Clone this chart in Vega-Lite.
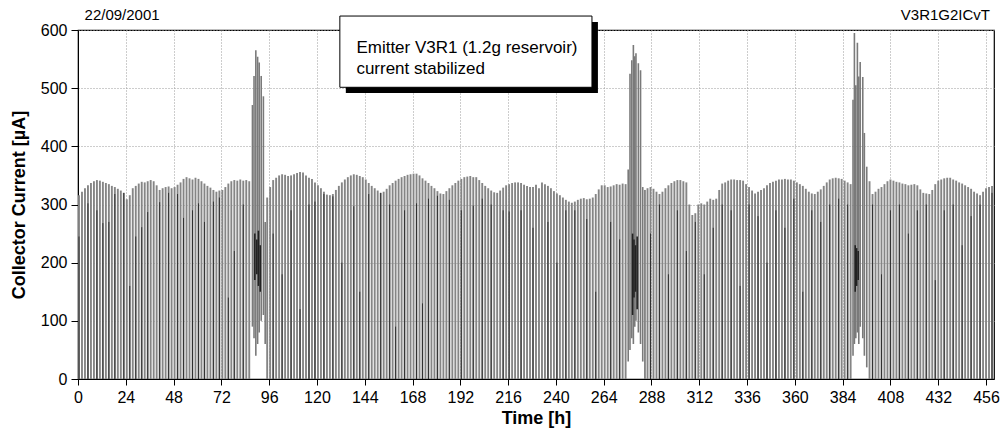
{
  "$schema": "https://vega.github.io/schema/vega-lite/v6.json",
  "width": 916,
  "height": 349,
  "autosize": {"type": "none"},
  "padding": {"left": 78, "top": 30, "right": 11, "bottom": 65},
  "background": "white",
  "config": {
    "font": "Liberation Sans",
    "view": {"stroke": "black", "strokeWidth": 1.2},
    "axis": {
      "domainColor": "black",
      "tickColor": "black",
      "labelColor": "black",
      "titleColor": "black",
      "labelFontSize": 16,
      "titleFontSize": 18,
      "titleFontWeight": "bold",
      "gridColor": "#9a9a9a",
      "gridDash": [1, 2],
      "labelOverlap": false,
      "labelFlush": false
    }
  },
  "datasets": {
    "spikes": [
      {"t":0.5,"v":316},{"t":2,"v":322},{"t":3.5,"v":328},{"t":5,"v":333},{"t":6.5,"v":337},{"t":8,"v":340},{"t":9.5,"v":342},{"t":11,"v":341},{"t":12.5,"v":339},{"t":14,"v":337},
      {"t":15.5,"v":335},{"t":17,"v":332},{"t":18.5,"v":330},{"t":20,"v":327},{"t":21.5,"v":324},{"t":23,"v":320},{"t":24.5,"v":309},{"t":26,"v":316},{"t":27.5,"v":328},{"t":29,"v":332},
      {"t":30.5,"v":336},{"t":32,"v":339},{"t":33.5,"v":338},{"t":35,"v":340},{"t":36.5,"v":342},{"t":38,"v":340},{"t":39.5,"v":333},{"t":41,"v":325},{"t":42.5,"v":328},{"t":44,"v":330},
      {"t":45.5,"v":331},{"t":47,"v":328},{"t":48.5,"v":330},{"t":50,"v":334},{"t":51.5,"v":338},{"t":53,"v":344},{"t":54.5,"v":347},{"t":56,"v":345},{"t":57.5,"v":343},{"t":59,"v":346},
      {"t":60.5,"v":344},{"t":62,"v":340},{"t":63.5,"v":336},{"t":65,"v":332},{"t":66.5,"v":329},{"t":68,"v":325},{"t":69.5,"v":322},{"t":71,"v":324},{"t":72.5,"v":325},{"t":74,"v":330},
      {"t":75.5,"v":336},{"t":77,"v":340},{"t":78.5,"v":342},{"t":80,"v":341},{"t":81.5,"v":343},{"t":83,"v":341},{"t":84.5,"v":342},{"t":86,"v":340},
      {"t":95,"v":312},{"t":96.5,"v":330},{"t":98,"v":342},{"t":99.5,"v":346},{"t":101,"v":350},{"t":102.5,"v":352},{"t":104,"v":351},{"t":105.5,"v":349},{"t":107,"v":350},{"t":108.5,"v":352},
      {"t":110,"v":354},{"t":111.5,"v":356},{"t":113,"v":355},{"t":114.5,"v":350},{"t":116,"v":346},{"t":117.5,"v":344},{"t":119,"v":338},{"t":120.5,"v":333},{"t":122,"v":328},{"t":123.5,"v":322},
      {"t":125,"v":317},{"t":126.5,"v":316},{"t":128,"v":318},{"t":129.5,"v":325},{"t":131,"v":332},{"t":132.5,"v":338},{"t":134,"v":343},{"t":135.5,"v":347},{"t":137,"v":350},{"t":138.5,"v":352},
      {"t":140,"v":351},{"t":141.5,"v":349},{"t":143,"v":347},{"t":144.5,"v":343},{"t":146,"v":337},{"t":147.5,"v":332},{"t":149,"v":328},{"t":150.5,"v":324},{"t":152,"v":320},{"t":153.5,"v":322},
      {"t":155,"v":327},{"t":156.5,"v":333},{"t":158,"v":337},{"t":159.5,"v":341},{"t":161,"v":344},{"t":162.5,"v":347},{"t":164,"v":349},{"t":165.5,"v":351},{"t":167,"v":352},{"t":168.5,"v":353},
      {"t":170,"v":353},{"t":171.5,"v":350},{"t":173,"v":345},{"t":174.5,"v":341},{"t":176,"v":337},{"t":177.5,"v":332},{"t":179,"v":328},{"t":180.5,"v":323},{"t":182,"v":319},{"t":183.5,"v":318},
      {"t":185,"v":323},{"t":186.5,"v":328},{"t":188,"v":333},{"t":189.5,"v":337},{"t":191,"v":341},{"t":192.5,"v":344},{"t":194,"v":347},{"t":195.5,"v":348},{"t":197,"v":349},{"t":198.5,"v":347},
      {"t":200,"v":347},{"t":201.5,"v":342},{"t":203,"v":337},{"t":204.5,"v":332},{"t":206,"v":328},{"t":207.5,"v":324},{"t":209,"v":321},{"t":210.5,"v":320},{"t":212,"v":324},{"t":213.5,"v":329},
      {"t":215,"v":333},{"t":216.5,"v":335},{"t":218,"v":337},{"t":219.5,"v":338},{"t":221,"v":338},{"t":222.5,"v":337},{"t":224,"v":334},{"t":225.5,"v":332},{"t":227,"v":330},{"t":228.5,"v":330},
      {"t":230,"v":334},{"t":231.5,"v":328},{"t":233,"v":338},{"t":234.5,"v":335},{"t":236,"v":332},{"t":237.5,"v":328},{"t":239,"v":323},{"t":240.5,"v":319},{"t":242,"v":316},{"t":243.5,"v":312},
      {"t":245,"v":308},{"t":246.5,"v":305},{"t":248,"v":303},{"t":249.5,"v":305},{"t":251,"v":308},{"t":252.5,"v":310},{"t":254,"v":311},{"t":255.5,"v":309},{"t":257,"v":310},{"t":258.5,"v":312},
      {"t":260,"v":318},{"t":261.5,"v":326},{"t":263,"v":333},{"t":264.5,"v":333},{"t":266,"v":330},{"t":267.5,"v":331},{"t":269,"v":333},{"t":270.5,"v":335},{"t":272,"v":334},{"t":273.5,"v":336},
      {"t":275,"v":335},
      {"t":284.7,"v":325},{"t":286,"v":328},{"t":287.5,"v":330},{"t":289,"v":327},{"t":290.5,"v":322},{"t":292,"v":318},{"t":293.5,"v":322},{"t":295,"v":328},{"t":296.5,"v":333},{"t":298,"v":337},
      {"t":299.5,"v":340},{"t":301,"v":342},{"t":302.5,"v":342},{"t":304,"v":340},{"t":305.5,"v":338},{"t":307,"v":300},{"t":308.5,"v":282},{"t":310,"v":285},{"t":311.5,"v":300},{"t":313,"v":302},
      {"t":314.5,"v":300},{"t":316,"v":305},{"t":317.5,"v":310},{"t":319,"v":308},{"t":320.5,"v":310},{"t":322,"v":325},{"t":323.5,"v":336},{"t":325,"v":338},{"t":326.5,"v":341},{"t":328,"v":343},
      {"t":329.5,"v":343},{"t":331,"v":342},{"t":332.5,"v":342},{"t":334,"v":341},{"t":335.5,"v":335},{"t":337,"v":330},{"t":338.5,"v":324},{"t":340,"v":319},{"t":341.5,"v":322},{"t":343,"v":325},
      {"t":344.5,"v":328},{"t":346,"v":333},{"t":347.5,"v":337},{"t":349,"v":339},{"t":350.5,"v":341},{"t":352,"v":343},{"t":353.5,"v":343},{"t":355,"v":344},{"t":356.5,"v":343},{"t":358,"v":343},
      {"t":359.5,"v":341},{"t":361,"v":338},{"t":362.5,"v":335},{"t":364,"v":332},{"t":365.5,"v":327},{"t":367,"v":322},{"t":368.5,"v":319},{"t":370,"v":318},{"t":371.5,"v":322},{"t":373,"v":326},
      {"t":374.5,"v":332},{"t":376,"v":338},{"t":377.5,"v":343},{"t":379,"v":345},{"t":380.5,"v":346},{"t":382,"v":345},{"t":383.5,"v":344},{"t":385,"v":341},{"t":386.5,"v":338},{"t":388,"v":335},
      {"t":397.5,"v":340},{"t":399,"v":318},{"t":400.5,"v":322},{"t":402,"v":327},{"t":403.5,"v":330},{"t":405,"v":335},{"t":406.5,"v":340},{"t":408,"v":343},{"t":409.5,"v":341},{"t":411,"v":339},
      {"t":412.5,"v":338},{"t":414,"v":336},{"t":415.5,"v":335},{"t":417,"v":333},{"t":418.5,"v":334},{"t":420,"v":335},{"t":421.5,"v":333},{"t":423,"v":326},{"t":424.5,"v":320},{"t":426,"v":319},
      {"t":427.5,"v":318},{"t":429,"v":325},{"t":430.5,"v":335},{"t":432,"v":341},{"t":433.5,"v":343},{"t":435,"v":345},{"t":436.5,"v":346},{"t":438,"v":346},{"t":439.5,"v":343},{"t":441,"v":341},
      {"t":442.5,"v":338},{"t":444,"v":336},{"t":445.5,"v":333},{"t":447,"v":330},{"t":448.5,"v":327},{"t":450,"v":322},{"t":451.5,"v":319},{"t":453,"v":316},{"t":454.5,"v":322},{"t":456,"v":328},
      {"t":457.5,"v":330},{"t":459,"v":332}
    ],
    "dark": [
      {"t":0.5,"v":245},{"t":5,"v":302},{"t":9.5,"v":290},{"t":12.5,"v":268},{"t":15.5,"v":270},{"t":18.5,"v":318},{"t":23,"v":320},{"t":26,"v":160},{"t":29,"v":245},{"t":32,"v":261},
      {"t":35,"v":287},{"t":41,"v":304},{"t":45.5,"v":320},{"t":50,"v":318},{"t":53,"v":277},{"t":57.5,"v":290},{"t":60.5,"v":302},{"t":63.5,"v":270},{"t":68,"v":305},{"t":71,"v":312},
      {"t":75.5,"v":140},{"t":78.5,"v":220},{"t":83,"v":300},
      {"t":98,"v":250},{"t":102.5,"v":180},{"t":107,"v":290},{"t":111.5,"v":120},{"t":116,"v":300},{"t":119,"v":305},{"t":123.5,"v":318},{"t":128,"v":314},{"t":132.5,"v":200},{"t":138.5,"v":297},
      {"t":141.5,"v":150},{"t":146,"v":318},{"t":152,"v":320},{"t":156.5,"v":300},{"t":159.5,"v":90},{"t":164,"v":290},{"t":170,"v":302},{"t":173,"v":130},{"t":176,"v":310},{"t":180.5,"v":315},
      {"t":186.5,"v":308},{"t":192.5,"v":290},{"t":198.5,"v":298},{"t":203,"v":310},{"t":207.5,"v":300},{"t":213.5,"v":290},{"t":216.5,"v":288},{"t":222.5,"v":290},{"t":228.5,"v":260},{"t":236,"v":270},
      {"t":240.5,"v":200},{"t":245,"v":290},{"t":249.5,"v":290},{"t":255.5,"v":275},{"t":260,"v":150},{"t":267.5,"v":270},{"t":272,"v":240},
      {"t":287.5,"v":250},{"t":292,"v":300},{"t":296.5,"v":180},{"t":301,"v":290},{"t":305.5,"v":220},{"t":310,"v":270},{"t":314.5,"v":180},{"t":319,"v":260},{"t":323.5,"v":300},{"t":328,"v":290},
      {"t":332.5,"v":160},{"t":337,"v":300},{"t":341.5,"v":280},{"t":346,"v":200},{"t":350.5,"v":290},{"t":355,"v":260},{"t":359.5,"v":310},{"t":364,"v":150},{"t":368.5,"v":290},{"t":373,"v":270},
      {"t":377.5,"v":300},{"t":382,"v":310},{"t":386.5,"v":300},
      {"t":399,"v":300},{"t":403.5,"v":180},{"t":408,"v":290},{"t":412.5,"v":300},{"t":417,"v":250},{"t":421.5,"v":290},{"t":426,"v":300},{"t":430.5,"v":170},{"t":435,"v":290},{"t":439.5,"v":300},
      {"t":444,"v":230},{"t":448.5,"v":280},{"t":453,"v":300},{"t":459,"v":320}
    ],
    "bursts": [
      {"t":87.6,"v":471,"lo":90},{"t":88.4,"v":521,"lo":70},{"t":89.3,"v":565,"lo":40},{"t":90.2,"v":554,"lo":60},{"t":91.0,"v":544,"lo":80},{"t":92.0,"v":521,"lo":100},{"t":93.1,"v":486,"lo":110},{"t":94.0,"v":270,"lo":60},
      {"t":276.3,"v":360,"lo":30},{"t":277.2,"v":525,"lo":50},{"t":278.1,"v":548,"lo":70},{"t":278.9,"v":574,"lo":60},{"t":279.6,"v":555,"lo":90},{"t":280.2,"v":560,"lo":100},{"t":281.4,"v":543,"lo":80},{"t":282.5,"v":531,"lo":60},{"t":283.6,"v":330,"lo":30},
      {"t":389.2,"v":480,"lo":40},{"t":389.9,"v":595,"lo":60},{"t":390.6,"v":505,"lo":70},{"t":391.4,"v":578,"lo":80},{"t":392.1,"v":520,"lo":60},{"t":392.8,"v":545,"lo":90},{"t":394.1,"v":519,"lo":70},{"t":394.9,"v":423,"lo":40},{"t":396.1,"v":365,"lo":20}
    ],
    "clusters": [
      {"t":88.8,"v":250,"lo":170},{"t":89.8,"v":240,"lo":180},{"t":90.6,"v":255,"lo":160},{"t":91.5,"v":230,"lo":150},
      {"t":278.5,"v":250,"lo":110},{"t":279.2,"v":240,"lo":140},{"t":280.0,"v":230,"lo":150},{"t":280.8,"v":245,"lo":120},
      {"t":390.3,"v":230,"lo":150},{"t":391.0,"v":225,"lo":160},{"t":391.8,"v":220,"lo":170}
    ]
  },
  "layer": [
    {
      "data": {"name": "spikes"},
      "mark": {"type": "rule", "color": "#858585", "strokeWidth": 1.9},
      "encoding": {
        "x": {
          "field": "t",
          "type": "quantitative",
          "scale": {"domain": [0, 460], "nice": false, "zero": false},
          "axis": {
            "title": "Time [h]",
            "values": [0,12,24,36,48,60,72,84,96,108,120,132,144,156,168,180,192,204,216,228,240,252,264,276,288,300,312,324,336,348,360,372,384,396,408,420,432,444,456],
            "labelExpr": "datum.value % 24 === 0 ? datum.label : ''",
            "tickSize": {"condition": {"test": "datum.value % 24 === 0", "value": 6}, "value": 3},
            "grid": true,
            "gridOpacity": {"condition": {"test": "datum.value % 24 === 0", "value": 1}, "value": 0},
            "labelPadding": 4,
            "titlePadding": 4
          }
        },
        "y": {
          "field": "v",
          "type": "quantitative",
          "scale": {"domain": [0, 600], "nice": false},
          "axis": {
            "title": "Collector Current [µA]",
            "values": [0,50,100,150,200,250,300,350,400,450,500,550,600],
            "labelExpr": "datum.value % 100 === 0 ? datum.label : ''",
            "tickSize": {"condition": {"test": "datum.value % 100 === 0", "value": 7}, "value": 4},
            "grid": true,
            "gridOpacity": {"condition": {"test": "datum.value % 100 === 0", "value": 1}, "value": 0},
            "labelPadding": 4,
            "titlePadding": 12
          }
        },
        "y2": {"datum": 0}
      }
    },
    {
      "data": {"name": "dark"},
      "mark": {"type": "rule", "color": "#1a1a1a", "strokeWidth": 0.8},
      "encoding": {
        "x": {"field": "t", "type": "quantitative"},
        "y": {"field": "v", "type": "quantitative"},
        "y2": {"datum": 0}
      }
    },
    {
      "data": {"name": "bursts"},
      "mark": {"type": "rule", "color": "#7a7a7a", "strokeWidth": 1.6},
      "encoding": {
        "x": {"field": "t", "type": "quantitative"},
        "y": {"field": "v", "type": "quantitative"},
        "y2": {"field": "lo"}
      }
    },
    {
      "data": {"name": "clusters"},
      "mark": {"type": "rule", "color": "#222222", "strokeWidth": 1.6},
      "encoding": {
        "x": {"field": "t", "type": "quantitative"},
        "y": {"field": "v", "type": "quantitative"},
        "y2": {"field": "lo"}
      }
    },
    {
      "data": {"values": [{"t": 134.5, "t2": 261.1, "v": 613.7, "v2": 491.7}]},
      "mark": {"type": "rect", "color": "black"},
      "encoding": {
        "x": {"field": "t", "type": "quantitative"},
        "x2": {"field": "t2"},
        "y": {"field": "v", "type": "quantitative"},
        "y2": {"field": "v2"}
      }
    },
    {
      "data": {"values": [{"t": 131.5, "t2": 258.1, "v": 624, "v2": 501.5}]},
      "mark": {"type": "rect", "fill": "white", "stroke": "black", "strokeWidth": 1},
      "encoding": {
        "x": {"field": "t", "type": "quantitative"},
        "x2": {"field": "t2"},
        "y": {"field": "v", "type": "quantitative"},
        "y2": {"field": "v2"}
      }
    },
    {
      "data": {"values": [
        {"t": 139.8, "v": 561, "label": "Emitter V3R1  (1.2g reservoir)"},
        {"t": 139.8, "v": 525, "label": "current stabilized"}
      ]},
      "mark": {"type": "text", "align": "left", "baseline": "alphabetic", "fontSize": 17, "color": "black"},
      "encoding": {
        "x": {"field": "t", "type": "quantitative"},
        "y": {"field": "v", "type": "quantitative"},
        "text": {"field": "label"}
      }
    },
    {
      "data": {"values": [{"t": 3.3, "v": 617, "label": "22/09/2001"}]},
      "mark": {"type": "text", "align": "left", "baseline": "alphabetic", "fontSize": 15, "color": "black"},
      "encoding": {
        "x": {"field": "t", "type": "quantitative"},
        "y": {"field": "v", "type": "quantitative"},
        "text": {"field": "label"}
      }
    },
    {
      "data": {"values": [{"t": 458, "v": 617, "label": "V3R1G2ICvT"}]},
      "mark": {"type": "text", "align": "right", "baseline": "alphabetic", "fontSize": 15, "color": "black"},
      "encoding": {
        "x": {"field": "t", "type": "quantitative"},
        "y": {"field": "v", "type": "quantitative"},
        "text": {"field": "label"}
      }
    }
  ]
}
